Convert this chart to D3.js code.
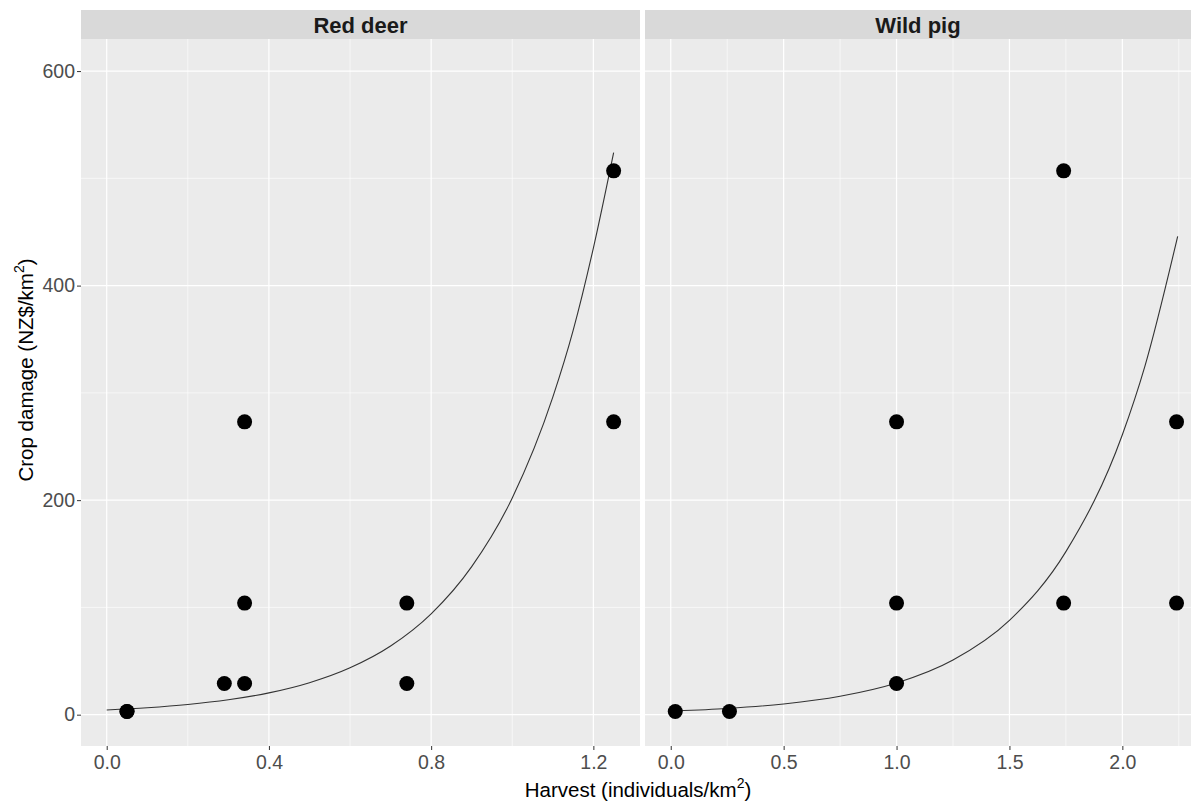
<!DOCTYPE html>
<html>
<head>
<meta charset="utf-8">
<script src="https://cdn.jsdelivr.net/npm/d3@7"></script>
<style>
body{margin:0;background:#fff;}
text{font-family:"Liberation Sans",Arial,sans-serif;}
</style>
</head>
<body>
<svg id="chart" width="1201" height="804"></svg>
<script>
// facets
var species=["Red deer","Wild pig"];

// red deer observations
var deerHarvest=[0.05,0.05,0.29,0.34,0.34,0.34,0.74,0.74,1.25,1.25];
var deerDamage=[3,3,29,29,104,273,29,104,273,507];
// red deer fitted curve
var deerCurveX=[0,0.1,0.2,0.3,0.4,0.5,0.6,0.7,0.8,0.9,1.0,1.1,1.15,1.2,1.25];
var deerCurveY=[4.4,6.5,9.5,13.9,20.3,29.8,43.7,64,94,138,202,296,358,435,524];

// wild pig observations
var pigHarvest=[0.02,0.26,1.0,1.0,1.0,1.74,1.74,2.24,2.24];
var pigDamage=[3,3,29,104,273,104,507,104,273];
// wild pig fitted curve
var pigCurveX=[0.02,0.25,0.5,0.75,1.0,1.25,1.5,1.75,2.0,2.1,2.245];
var pigCurveY=[3.5,5.8,10,17.2,29.6,51,88,152,261,325,446];

// ticks
var yTicks=[0,200,400,600];
var yMinor=[100,300,500];
var deerTicks=[0,0.4,0.8,1.2];
var deerMinor=[0.2,0.6,1.0];
var pigTicks=[0,0.5,1.0,1.5,2.0];
var pigMinor=[0.25,0.75,1.25,1.75,2.25];

var svg=d3.select("#chart");
var panelTop=39, panelBottom=746, stripTop=10;

var yScale=d3.scaleLinear()
    .domain([-29.2,629.9])
    .range([panelBottom,panelTop]);

var zip=function(xs,ys){
    return xs.map(function(x,i){return {x:x,y:ys[i]};});
}

var drawPanel=function(opt)
{
    var xScale=d3.scaleLinear().domain(opt.domain).range([opt.left,opt.right]);
    var g=svg.append("g");

    // strip
    g.append("rect")
      .attr("x",opt.left).attr("y",stripTop)
      .attr("width",opt.right-opt.left).attr("height",panelTop-stripTop)
      .attr("fill","#D9D9D9");
    g.append("text")
      .attr("x",(opt.left+opt.right)/2).attr("y",(stripTop+panelTop)/2+8)
      .attr("text-anchor","middle")
      .attr("font-size",22).attr("font-weight","bold")
      .attr("fill","#1A1A1A")
      .text(opt.name);

    // panel
    g.append("rect")
      .attr("x",opt.left).attr("y",panelTop)
      .attr("width",opt.right-opt.left).attr("height",panelBottom-panelTop)
      .attr("fill","#EBEBEB");

    g.selectAll(".yminor").data(yMinor).enter().append("line")
      .attr("x1",opt.left).attr("x2",opt.right)
      .attr("y1",function(d){return yScale(d);}).attr("y2",function(d){return yScale(d);})
      .attr("stroke","#fff").attr("stroke-width",0.6);
    g.selectAll(".xminor").data(opt.minor).enter().append("line")
      .attr("y1",panelTop).attr("y2",panelBottom)
      .attr("x1",function(d){return xScale(d);}).attr("x2",function(d){return xScale(d);})
      .attr("stroke","#fff").attr("stroke-width",0.6);
    g.selectAll(".ymajor").data(yTicks).enter().append("line")
      .attr("x1",opt.left).attr("x2",opt.right)
      .attr("y1",function(d){return yScale(d);}).attr("y2",function(d){return yScale(d);})
      .attr("stroke","#fff").attr("stroke-width",1.2);
    g.selectAll(".xmajor").data(opt.ticks).enter().append("line")
      .attr("y1",panelTop).attr("y2",panelBottom)
      .attr("x1",function(d){return xScale(d);}).attr("x2",function(d){return xScale(d);})
      .attr("stroke","#fff").attr("stroke-width",1.2);

    // x axis
    var xAxis=d3.axisBottom(xScale)
        .tickValues(opt.ticks)
        .tickFormat(d3.format(".1f"))
        .tickSize(4).tickPadding(5);
    var ax=g.append("g").attr("transform","translate(0,"+panelBottom+")").call(xAxis);
    ax.select(".domain").remove();
    ax.selectAll("line").attr("stroke","#333");
    ax.selectAll("text").attr("font-size",19.5).attr("fill","#4D4D4D")
      .attr("font-family","Liberation Sans,Arial,sans-serif");

    // fitted curve
    var line=d3.line()
        .x(function(d){return xScale(d.x);})
        .y(function(d){return yScale(d.y);})
        .curve(d3.curveMonotoneX);
    g.append("path")
      .datum(zip(opt.curveX,opt.curveY))
      .attr("d",line)
      .attr("fill","none")
      .attr("stroke","#333")
      .attr("stroke-width",1.1);

    // points
    g.selectAll("circle")
      .data(zip(opt.px,opt.py))
      .enter()
      .append("circle")
      .attr("cx",function(d){return xScale(d.x);})
      .attr("cy",function(d){return yScale(d.y);})
      .attr("r",7.5)
      .attr("fill","#000");
}

drawPanel({name:species[0],left:81,right:640,domain:[-0.0634,1.315],
    ticks:deerTicks,minor:deerMinor,px:deerHarvest,py:deerDamage,
    curveX:deerCurveX,curveY:deerCurveY});
drawPanel({name:species[1],left:645,right:1191,domain:[-0.114,2.304],
    ticks:pigTicks,minor:pigMinor,px:pigHarvest,py:pigDamage,
    curveX:pigCurveX,curveY:pigCurveY});

// y axis (left panel only)
var yAxis=d3.axisLeft(yScale).tickValues(yTicks).tickSize(4).tickPadding(2);
var ay=svg.append("g").attr("transform","translate(81,0)").call(yAxis);
ay.select(".domain").remove();
ay.selectAll("line").attr("stroke","#333");
ay.selectAll("text").attr("font-size",19.5).attr("fill","#4D4D4D")
  .attr("font-family","Liberation Sans,Arial,sans-serif");

// axis titles
var xt=svg.append("text")
    .attr("x",638).attr("y",797)
    .attr("text-anchor","middle")
    .attr("font-size",20.5).attr("fill","#000");
xt.append("tspan").text("Harvest (individuals/km");
xt.append("tspan").attr("dy",-9).attr("font-size",14).text("2");
xt.append("tspan").attr("dy",9).text(")");

var yt=svg.append("text")
    .attr("transform","translate(33,370) rotate(-90)")
    .attr("text-anchor","middle")
    .attr("font-size",20.5).attr("fill","#000");
yt.append("tspan").text("Crop damage (NZ$/km");
yt.append("tspan").attr("dy",-9).attr("font-size",14).text("2");
yt.append("tspan").attr("dy",9).text(")");
</script>
</body>
</html>
